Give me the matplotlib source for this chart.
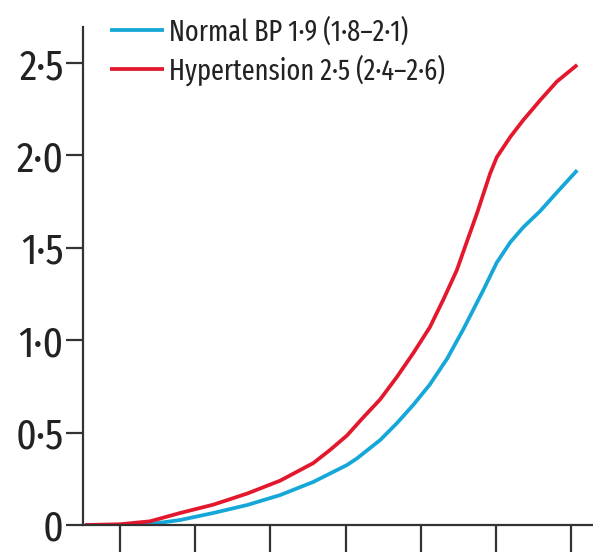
import matplotlib
matplotlib.use("Agg")
import matplotlib.pyplot as plt
from matplotlib.ticker import FixedLocator, NullFormatter, FixedFormatter

# ---- data ----
normal_x = [0.535, 1.0, 1.40, 1.80, 2.24, 2.69, 3.13, 3.57, 4.02, 4.15, 4.46, 4.68,
            4.90, 5.12, 5.35, 5.56, 5.83, 6.01, 6.19, 6.36, 6.59, 6.81, 7.08]
normal_y = [0.0, 0.0, 0.005, 0.027, 0.065, 0.108, 0.162, 0.233, 0.325, 0.36, 0.46, 0.55,
            0.65, 0.76, 0.90, 1.055, 1.27, 1.42, 1.53, 1.61, 1.70, 1.80, 1.92]

hyper_x = [0.535, 1.0, 1.40, 1.80, 2.24, 2.69, 3.13, 3.57, 3.79, 4.02, 4.23, 4.46, 4.68,
           4.90, 5.12, 5.30, 5.48, 5.61, 5.75, 5.92, 6.01, 6.19, 6.36, 6.59, 6.81, 7.08]
hyper_y = [0.0, 0.004, 0.02, 0.065, 0.11, 0.17, 0.24, 0.335, 0.405, 0.485, 0.58, 0.68, 0.80,
           0.93, 1.07, 1.22, 1.38, 1.53, 1.69, 1.90, 1.99, 2.10, 2.19, 2.30, 2.40, 2.49]

series_labels = ["Normal BP 1·9 (1·8–2·1)", "Hypertension 2·5 (2·4–2·6)"]
x_ticks = [1, 2, 3, 4, 5, 6, 7]
y_ticks = [0, 0.5, 1.0, 1.5, 2.0, 2.5]
y_tick_labels = ["0", "0·5", "1·0", "1·5", "2·0", "2·5"]

BLUE = "#14A7D8"
RED = "#E3182D"
AXC = "#333333"
FONT = ["Fira Sans Extra Condensed", "DejaVu Sans"]

fig = plt.figure(figsize=(5.93, 5.52), dpi=100)
ax = fig.add_axes([83 / 593, 27 / 552, (593 - 83) / 593, (525 - 27) / 552])

ax.plot(normal_x, normal_y, color=BLUE, lw=2.7, label=series_labels[0],
        solid_capstyle="butt", solid_joinstyle="round")
ax.plot(hyper_x, hyper_y, color=RED, lw=2.7, label=series_labels[1],
        solid_capstyle="butt", solid_joinstyle="round")

ax.set_xlim(0.508, 7.29)
ax.set_ylim(0, 2.695)

for s in ["top", "right"]:
    ax.spines[s].set_visible(False)
for s in ["left", "bottom"]:
    ax.spines[s].set_color(AXC)
    ax.spines[s].set_linewidth(1.6)

ax.xaxis.set_major_locator(FixedLocator(x_ticks))
ax.xaxis.set_major_formatter(NullFormatter())
ax.yaxis.set_major_locator(FixedLocator(y_ticks))
ax.yaxis.set_major_formatter(FixedFormatter(y_tick_labels))
ax.tick_params(axis="x", direction="out", length=22, width=1.6, color=AXC)
ax.tick_params(axis="y", direction="out", length=12, width=1.6, color=AXC, pad=2,
               labelsize=31, labelcolor="#222222")
for t in ax.get_yticklabels():
    t.set_family(FONT)

leg = ax.legend(loc="upper left", bbox_to_anchor=(110 / 593, 1 - 17 / 552),
                bbox_transform=fig.transFigure, frameon=False, borderpad=0,
                borderaxespad=0, handlelength=1.88, handletextpad=0.17,
                labelspacing=0.27, prop={"family": FONT, "size": 20.6})
for t in leg.get_texts():
    t.set_color("#222222")

fig.savefig("out.png", dpi=100)
